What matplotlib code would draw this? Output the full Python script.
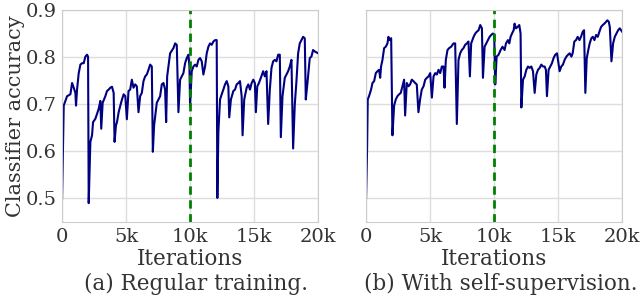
import matplotlib
matplotlib.use('Agg')
import matplotlib.pyplot as plt
import numpy as np

# iterations (thousands) and classifier accuracy
regular_k = [0, 0.13, 0.39, 0.65, 0.78, 0.91, 1.04, 1.09, 1.17, 1.30, 1.43, 1.56, 1.69, 1.82, 1.95,
             2.03, 2.08, 2.21, 2.34, 2.42, 2.60, 2.86, 2.99, 3.06, 3.17, 3.38, 3.51, 3.64, 3.77, 3.90,
             4.03, 4.10, 4.21, 4.29, 4.42, 4.55, 4.68, 4.81, 4.94, 5.06, 5.19, 5.32, 5.45, 5.58, 5.71,
             5.84, 5.97, 6.10, 6.23, 6.36, 6.49, 6.62, 6.75, 6.88, 7.01, 7.09, 7.19, 7.40, 7.66, 7.79,
             7.92, 8.05, 8.13, 8.21, 8.44, 8.70, 8.83, 8.96, 9.09, 9.22, 9.35, 9.48, 9.61, 9.74, 9.87,
             9.95, 10.0, 10.13, 10.26, 10.39, 10.52, 10.65, 10.78, 10.91, 11.04, 11.17, 11.30, 11.43,
             11.56, 11.69, 11.82, 11.95, 12.08, 12.13, 12.21, 12.34, 12.47, 12.60, 12.73, 12.86, 12.99,
             13.06, 13.19, 13.38, 13.51, 13.64, 13.77, 13.90, 14.03, 14.10, 14.23, 14.42, 14.55, 14.68,
             14.81, 14.94, 15.06, 15.14, 15.25, 15.38, 15.53, 15.71, 15.84, 15.97, 16.10, 16.23, 16.36,
             16.49, 16.62, 16.75, 16.88, 17.01, 17.09, 17.22, 17.40, 17.53, 17.66, 17.79, 17.92, 18.05,
             18.18, 18.31, 18.44, 18.57, 18.70, 18.83, 18.96, 19.04, 19.17, 19.35, 19.48, 19.61, 19.74,
             19.87, 20.0]
regular_acc = [0.50, 0.697, 0.717, 0.721, 0.745, 0.735, 0.724, 0.697, 0.731, 0.766, 0.784, 0.787, 0.787,
               0.801, 0.805, 0.801, 0.490, 0.620, 0.634, 0.662, 0.669, 0.690, 0.707, 0.648, 0.703, 0.717,
               0.728, 0.731, 0.735, 0.737, 0.724, 0.620, 0.655, 0.662, 0.683, 0.697, 0.710, 0.721, 0.717,
               0.668, 0.728, 0.731, 0.752, 0.735, 0.742, 0.738, 0.683, 0.717, 0.724, 0.749, 0.759, 0.763,
               0.773, 0.784, 0.780, 0.599, 0.655, 0.703, 0.717, 0.742, 0.745, 0.731, 0.662, 0.759, 0.808,
               0.819, 0.829, 0.826, 0.683, 0.752, 0.759, 0.766, 0.787, 0.798, 0.805, 0.780, 0.697, 0.770,
               0.780, 0.784, 0.780, 0.794, 0.798, 0.791, 0.763, 0.780, 0.808, 0.822, 0.829, 0.826, 0.833,
               0.836, 0.836, 0.501, 0.641, 0.710, 0.721, 0.731, 0.742, 0.749, 0.738, 0.672, 0.710, 0.728,
               0.731, 0.742, 0.745, 0.749, 0.717, 0.634, 0.710, 0.735, 0.742, 0.731, 0.745, 0.752, 0.745,
               0.683, 0.738, 0.745, 0.756, 0.770, 0.759, 0.770, 0.658, 0.731, 0.777, 0.791, 0.794, 0.791,
               0.805, 0.805, 0.630, 0.717, 0.756, 0.763, 0.770, 0.780, 0.794, 0.606, 0.699, 0.749, 0.808,
               0.829, 0.836, 0.843, 0.840, 0.710, 0.745, 0.798, 0.801, 0.815, 0.812, 0.810, 0.808]

selfsup_k = [0, 0.08, 0.13, 0.23, 0.39, 0.50, 0.63, 0.76, 0.89, 1.02, 1.10, 1.17, 1.28, 1.41, 1.54,
             1.67, 1.75, 1.83, 1.96, 2.06, 2.19, 2.32, 2.45, 2.58, 2.71, 2.84, 2.97, 3.05, 3.18, 3.31,
             3.44, 3.57, 3.70, 3.83, 3.96, 4.09, 4.22, 4.35, 4.49, 4.62, 4.75, 4.88, 5.01, 5.14, 5.27,
             5.40, 5.53, 5.66, 5.79, 5.92, 6.05, 6.13, 6.23, 6.36, 6.49, 6.65, 6.83, 6.96, 7.09, 7.22,
             7.35, 7.48, 7.61, 7.74, 7.87, 8.00, 8.11, 8.21, 8.40, 8.53, 8.66, 8.79, 8.92, 9.05, 9.13,
             9.26, 9.39, 9.52, 9.65, 9.78, 9.91, 10.01, 10.09, 10.20, 10.35, 10.51, 10.66, 10.82, 10.93,
             11.08, 11.19, 11.29, 11.40, 11.53, 11.60, 11.71, 11.84, 11.97, 12.07, 12.13, 12.26, 12.39,
             12.52, 12.65, 12.78, 12.91, 13.04, 13.17, 13.30, 13.43, 13.56, 13.69, 13.82, 13.95, 14.05,
             14.13, 14.26, 14.39, 14.52, 14.65, 14.78, 14.92, 15.05, 15.12, 15.25, 15.38, 15.51, 15.65,
             15.78, 15.91, 16.04, 16.14, 16.27, 16.40, 16.53, 16.67, 16.79, 16.93, 17.03, 17.13, 17.24,
             17.36, 17.47, 17.60, 17.71, 17.84, 17.97, 18.10, 18.23, 18.36, 18.49, 18.62, 18.75, 18.85,
             18.96, 19.04, 19.17, 19.30, 19.43, 19.56, 19.69, 19.82, 19.92, 20.0]
selfsup_acc = [0.501, 0.606, 0.710, 0.717, 0.731, 0.745, 0.749, 0.766, 0.770, 0.773, 0.756, 0.780, 0.794,
               0.819, 0.822, 0.829, 0.843, 0.836, 0.840, 0.634, 0.697, 0.710, 0.717, 0.721, 0.724, 0.738,
               0.752, 0.676, 0.745, 0.738, 0.742, 0.752, 0.749, 0.745, 0.742, 0.683, 0.710, 0.731, 0.738,
               0.752, 0.756, 0.759, 0.766, 0.714, 0.759, 0.766, 0.763, 0.773, 0.766, 0.780, 0.780, 0.735,
               0.794, 0.815, 0.819, 0.822, 0.829, 0.829, 0.658, 0.794, 0.808, 0.815, 0.819, 0.826, 0.829,
               0.833, 0.759, 0.829, 0.843, 0.850, 0.854, 0.857, 0.868, 0.861, 0.756, 0.822, 0.829, 0.836,
               0.843, 0.847, 0.850, 0.847, 0.742, 0.801, 0.805, 0.815, 0.822, 0.815, 0.829, 0.836, 0.829,
               0.843, 0.850, 0.857, 0.871, 0.861, 0.864, 0.868, 0.850, 0.693, 0.752, 0.759, 0.773, 0.780,
               0.777, 0.780, 0.770, 0.724, 0.763, 0.773, 0.777, 0.784, 0.780, 0.780, 0.773, 0.717, 0.773,
               0.780, 0.787, 0.798, 0.805, 0.808, 0.784, 0.770, 0.780, 0.784, 0.794, 0.801, 0.805, 0.808,
               0.801, 0.808, 0.833, 0.836, 0.843, 0.836, 0.843, 0.854, 0.857, 0.724, 0.798, 0.815, 0.829,
               0.840, 0.843, 0.836, 0.847, 0.843, 0.854, 0.864, 0.868, 0.871, 0.875, 0.878, 0.875, 0.864,
               0.791, 0.829, 0.843, 0.850, 0.857, 0.861, 0.857, 0.854]

xticks = [0, 5000, 10000, 15000, 20000]
xtick_labels = ['0', '5k', '10k', '15k', '20k']
yticks = [0.5, 0.6, 0.7, 0.8, 0.9]
captions = ['(a) Regular training.', '(b) With self-supervision.']
caption_x = [0.306, 0.783]

plt.rcParams['font.family'] = 'DejaVu Serif'

fig = plt.figure(figsize=(6.4, 2.97), dpi=100)
ax1 = fig.add_axes([0.097, 0.2525, 0.4, 0.714])
ax2 = fig.add_axes([0.572, 0.2525, 0.4, 0.714])

series = [(regular_k, regular_acc), (selfsup_k, selfsup_acc)]
for i, ax in enumerate([ax1, ax2]):
    ks, acc = series[i]
    ax.plot(np.array(ks) * 1000, acc, color='#000080', lw=1.5)
    ax.axvline(10000, color='#008000', lw=2, ls=(0, (3, 2)))
    ax.set_xlim(0, 20000)
    ax.set_ylim(0.45, 0.9)
    ax.set_xticks(xticks)
    ax.set_xticklabels(xtick_labels)
    ax.set_yticks(yticks)
    ax.grid(True, color='#dddddd', lw=1)
    ax.set_axisbelow(True)
    ax.tick_params(length=0, pad=4, colors='#333333', labelsize=14)
    for s in ax.spines.values():
        s.set_color('#cccccc')
    ax.set_xlabel('Iterations', fontsize=15.5, color='#333333', labelpad=2)
    fig.text(caption_x[i], 0.044, captions[i],
             ha='center', va='center', fontsize=15.5, color='#333333')

ax2.set_yticklabels([])
ax1.set_ylabel('Classifier accuracy', fontsize=15, color='#333333', labelpad=0)

fig.savefig('out.png', dpi=100)
